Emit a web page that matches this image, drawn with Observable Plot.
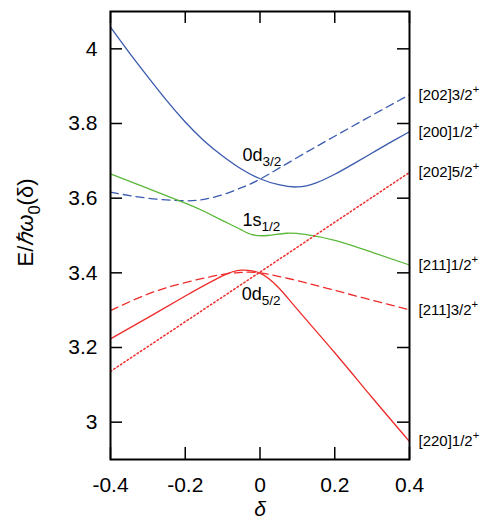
<!DOCTYPE html>
<html>
<head>
<meta charset="utf-8">
<script src="https://cdn.jsdelivr.net/npm/d3@7"></script>
<script src="https://cdn.jsdelivr.net/npm/@observablehq/plot@0.6"></script>
<style>
  body { margin: 0; background: #fff; }
  #chart { width: 491px; height: 525px; }
</style>
</head>
<body>
<div id="chart"></div>
<script>
// ---- tick values and labels ----
const deltaTicks = [-0.4, -0.2, 0, 0.2, 0.4];
const deltaTickLabels = ["-0.4", "-0.2", "0", "0.2", "0.4"];
const energyTicks = [3, 3.2, 3.4, 3.6, 3.8, 4];
const energyTickLabels = ["3", "3.2", "3.4", "3.6", "3.8", "4"];

// ---- series (deformation delta, energy E / hbar omega0) ----
const blueSolidDelta = [-0.4, -0.35, -0.3, -0.25, -0.2, -0.15, -0.1, -0.05, 0, 0.05, 0.1, 0.15, 0.2, 0.25, 0.3, 0.35, 0.4];
const blueSolidE     = [4.058, 3.990, 3.925, 3.862, 3.804, 3.754, 3.713, 3.678, 3.652, 3.636, 3.630, 3.641, 3.664, 3.692, 3.721, 3.750, 3.778];

const blueDashedDelta = [-0.4, -0.3, -0.2, -0.15, -0.1, -0.05, 0, 0.1, 0.2, 0.3, 0.4];
const blueDashedE     = [3.616, 3.600, 3.593, 3.597, 3.609, 3.628, 3.651, 3.709, 3.766, 3.822, 3.877];

const greenDelta = [-0.4, -0.3, -0.2, -0.15, -0.1, -0.05, -0.02, 0.02, 0.07, 0.12, 0.2, 0.3, 0.4];
const greenE     = [3.665, 3.626, 3.587, 3.565, 3.540, 3.515, 3.502, 3.500, 3.506, 3.503, 3.487, 3.455, 3.421];

const redDottedDelta = [-0.4, 0, 0.4];
const redDottedE     = [3.136, 3.402, 3.669];

const redDashedDelta = [-0.4, -0.3, -0.2, -0.1, -0.05, 0, 0.1, 0.2, 0.3, 0.4];
const redDashedE     = [3.299, 3.343, 3.374, 3.396, 3.401, 3.400, 3.379, 3.353, 3.327, 3.301];

const redSolidDelta = [-0.4, -0.3, -0.2, -0.1, -0.05, 0, 0.05, 0.1, 0.2, 0.3, 0.4];
const redSolidE     = [3.223, 3.280, 3.338, 3.392, 3.407, 3.399, 3.360, 3.302, 3.186, 3.066, 2.948];

// ---- Nilsson labels at right end (order matches endSeries) ----
const levelLabels = ["[202]3/2", "[200]1/2", "[202]5/2", "[211]1/2", "[211]3/2", "[220]1/2"];
const levelParity = "+";
const endSeries = [
  [blueDashedDelta, blueDashedE],
  [blueSolidDelta, blueSolidE],
  [redDottedDelta, redDottedE],
  [greenDelta, greenE],
  [redDashedDelta, redDashedE],
  [redSolidDelta, redSolidE]
];

// ---- spherical orbital labels ----
const orbitalLabels = ["0d", "1s", "0d"];
const orbitalSubs = ["3/2", "1/2", "5/2"];
const orbitalDelta = [-0.047, -0.047, -0.049];
const orbitalE = [3.714, 3.540, 3.342];

// ---- layout / style ----
const W = 491, H = 525;
const margin = {top: 11, right: 82, bottom: 66, left: 110};
const innerW = W - margin.left - margin.right;
const innerH = H - margin.top - margin.bottom;
const tickLen = 12;
const BLUE = "#3a5aae", GREEN = "#5ab83a", RED = "#ee2b2b";
const LW = 1.3;

function lineMark(xs, ys, opts) {
  return Plot.line(ys.map((_, i) => i), {x: i => xs[i], y: i => ys[i], ...opts});
}

const endIdx = endSeries.map((_, i) => i);

const chart = Plot.plot({
  width: W,
  height: H,
  marginTop: margin.top,
  marginRight: margin.right,
  marginBottom: margin.bottom,
  marginLeft: margin.left,
  style: {fontFamily: "'Liberation Sans', Arial, Helvetica, sans-serif", background: "#fff", color: "#000"},
  x: {domain: [-0.4, 0.4]},
  y: {domain: [2.9, 4.1]},
  marks: [
    // inward ticks on all four sides
    Plot.tickY(energyTicks, {y: d => d, insetRight: innerW - tickLen, stroke: "#000", strokeWidth: 1.5}),
    Plot.tickY(energyTicks, {y: d => d, insetLeft: innerW - tickLen, stroke: "#000", strokeWidth: 1.5}),
    Plot.tickX(deltaTicks, {x: d => d, insetTop: innerH - tickLen, stroke: "#000", strokeWidth: 1.5}),
    Plot.tickX(deltaTicks, {x: d => d, insetBottom: innerH - tickLen, stroke: "#000", strokeWidth: 1.5}),
    Plot.axisY({ticks: energyTicks, tickFormat: d => energyTickLabels[energyTicks.indexOf(d)], tickSize: 0, tickPadding: 13, fontSize: 21, label: null}),
    Plot.axisX({ticks: deltaTicks, tickFormat: d => deltaTickLabels[deltaTicks.indexOf(d)], tickSize: 0, tickPadding: 18, fontSize: 21, label: null}),

    // curves
    lineMark(blueSolidDelta, blueSolidE, {stroke: BLUE, strokeWidth: LW, curve: "natural"}),
    lineMark(blueDashedDelta, blueDashedE, {stroke: BLUE, strokeWidth: LW, strokeDasharray: "8,5", curve: "natural"}),
    lineMark(greenDelta, greenE, {stroke: GREEN, strokeWidth: LW, curve: "natural"}),
    lineMark(redDottedDelta, redDottedE, {stroke: RED, strokeWidth: 1.5, strokeDasharray: "1.5,2.5"}),
    lineMark(redDashedDelta, redDashedE, {stroke: RED, strokeWidth: LW, strokeDasharray: "8,5", curve: "natural"}),
    lineMark(redSolidDelta, redSolidE, {stroke: RED, strokeWidth: LW, curve: "natural"}),

    Plot.frame({stroke: "#000", strokeWidth: 2}),

    // labels at right end
    Plot.text(endIdx, {
      x: i => endSeries[i][0][endSeries[i][0].length - 1],
      y: i => endSeries[i][1][endSeries[i][1].length - 1],
      text: i => levelLabels[i] + "^{" + levelParity + "}",
      textAnchor: "start", dx: 9, fontSize: 15, fill: "#000"
    }),
    // orbital labels
    Plot.text(orbitalLabels.map((_, i) => i), {
      x: i => orbitalDelta[i], y: i => orbitalE[i],
      text: i => orbitalLabels[i] + "_{" + orbitalSubs[i] + "}",
      textAnchor: "start", fontSize: 18, fill: "#000"
    }),
    // axis titles
    Plot.text(["*{δ}"], {frameAnchor: "bottom", dy: 56, fontSize: 21, fill: "#000"}),
    Plot.text(["E/*{ℏω}_{0}(δ)"], {frameAnchor: "left", rotate: -90, dx: -85, dy: 31, fontSize: 22, fill: "#000"})
  ]
});

document.getElementById("chart").appendChild(chart);

// rich text: _{sub}, ^{sup}, *{italic}
const NS = "http://www.w3.org/2000/svg";
chart.querySelectorAll("text").forEach(el => {
  const s = el.textContent;
  if (!/[_^*]\{/.test(s)) return;
  const fs = parseFloat(getComputedStyle(el).fontSize) || 12;
  while (el.firstChild) el.removeChild(el.firstChild);
  s.split(/([_^*]\{[^}]*\})/).filter(p => p).forEach(p => {
    const t = document.createElementNS(NS, "tspan");
    if (p.startsWith("_{")) {
      t.textContent = p.slice(2, -1);
      t.setAttribute("font-size", (fs * 0.75) + "px");
      t.setAttribute("baseline-shift", (-fs * 0.3) + "px");
    } else if (p.startsWith("^{")) {
      t.textContent = p.slice(2, -1);
      t.setAttribute("font-size", (fs * 0.75) + "px");
      t.setAttribute("baseline-shift", (fs * 0.45) + "px");
    } else if (p.startsWith("*{")) {
      t.textContent = p.slice(2, -1);
      t.setAttribute("font-style", "italic");
    } else {
      t.textContent = p;
    }
    el.appendChild(t);
  });
});
</script>
</body>
</html>
